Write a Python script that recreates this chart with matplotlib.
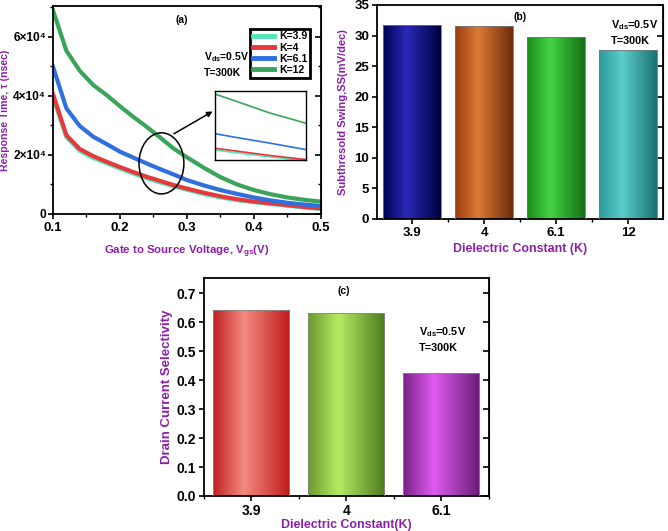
"""
    Three-panel figure: response time vs Vgs, subthreshold swing and
    drain current selectivity for different dielectric constants.
"""
import numpy as np
import matplotlib
matplotlib.use('Agg')
import matplotlib.pyplot as plt
from matplotlib.patches import Ellipse
from matplotlib.colors import LinearSegmentedColormap
from matplotlib.ticker import MultipleLocator

plt.rcParams['font.family'] = ['Liberation Sans', 'DejaVu Sans']
plt.rcParams['font.weight'] = 'bold'
plt.rcParams['axes.labelweight'] = 'bold'
plt.rcParams['mathtext.fontset'] = 'custom'
plt.rcParams['mathtext.default'] = 'bf'
plt.rcParams['mathtext.bf'] = 'Liberation Sans:bold'
plt.rcParams['mathtext.rm'] = 'Liberation Sans:bold'

# panel (a) data, response time in units of 1e4 nsec
VGS = [0.10, 0.12, 0.14, 0.16, 0.18, 0.20, 0.22, 0.24, 0.26, 0.28, 0.30,
       0.325, 0.35, 0.375, 0.40, 0.425, 0.45, 0.475, 0.50]
TAU_K39 = [3.96, 2.60, 2.14, 1.90, 1.72, 1.54, 1.37, 1.21, 1.07, 0.94, 0.82,
           0.68, 0.56, 0.47, 0.40, 0.34, 0.28, 0.22, 0.17]
TAU_K4 = [4.06, 2.67, 2.20, 1.96, 1.77, 1.59, 1.42, 1.26, 1.12, 0.98, 0.86,
          0.72, 0.60, 0.50, 0.42, 0.36, 0.30, 0.24, 0.19]
TAU_K61 = [4.99, 3.58, 2.98, 2.62, 2.37, 2.11, 1.91, 1.71, 1.52, 1.34, 1.15,
           0.97, 0.81, 0.68, 0.56, 0.46, 0.38, 0.32, 0.27]
TAU_K12 = [6.90, 5.53, 4.85, 4.37, 4.03, 3.65, 3.29, 2.95, 2.59, 2.22, 1.92,
           1.57, 1.25, 1.00, 0.81, 0.67, 0.56, 0.48, 0.42]
SERIES_LABELS = ['K=3.9', 'K=4', 'K=6.1', 'K=12']
SERIES_COLORS = ['#4fe6b4', '#e8383c', '#2f6fe0', '#3aa55a']
TAU_TICKS = [0, 2e4, 4e4, 6e4]
TAU_TICK_LABELS = ['0', '2×10⁴', '4×10⁴', '6×10⁴']

# panel (b) data
K_SS = ['3.9', '4', '6.1', '12']
SS = [31.7, 31.6, 29.8, 27.7]

# panel (c) data
K_SEL = ['3.9', '4', '6.1']
SELECTIVITY = [0.642, 0.631, 0.424]

LABEL_COLOR = '#8a1fa8'
COND_TEXT = 'V$_{ds}$=0.5V\nT=300K'


def shade_bars(ax, bars, palettes):
    """Fill each bar with a horizontal gradient, like the Origin style."""
    grad = np.linspace(0, 1, 256).reshape(1, -1)
    for bar, (dark, light, right) in zip(bars, palettes):
        cmap = LinearSegmentedColormap.from_list(
            '', [(0, dark), (0.4, light), (1, right)])
        x0 = bar.get_x()
        w = bar.get_width()
        h = bar.get_height()
        img = ax.imshow(grad, cmap=cmap, extent=(x0, x0 + w, 0, h),
                        aspect='auto', origin='lower', zorder=2)
        img.set_clip_path(bar)


def right_ticks(ax, major, minor=None):
    """Inward ticks on the right spine without labels."""
    sec = ax.secondary_yaxis('right')
    sec.yaxis.set_major_locator(MultipleLocator(major))
    if minor:
        sec.yaxis.set_minor_locator(MultipleLocator(minor))
    sec.tick_params(which='both', direction='in', labelright=False)
    sec.tick_params(which='major', length=4, width=1.2)
    sec.tick_params(which='minor', length=2, width=1)


def style_axes(ax, size):
    for sp in ax.spines.values():
        sp.set_linewidth(1.3)
    ax.tick_params(which='major', direction='out', length=3.5, width=1.2,
                   pad=2, labelsize=size)
    ax.tick_params(which='minor', direction='out', length=2, width=1)


fig = plt.figure(figsize=(6.68, 5.31), dpi=100)

# ---------------- panel (a) ----------------
ax_a = fig.add_axes([0.0793, 0.597, 0.401, 0.392])
series = [TAU_K39, TAU_K4, TAU_K61, TAU_K12]
for vals, lab, col in zip(series, SERIES_LABELS, SERIES_COLORS):
    ax_a.plot(VGS, np.array(vals) * 1e4, color=col, lw=3, label=lab)
ax_a.set_xlim(0.1, 0.5)
ax_a.set_ylim(0, 7.05e4)
ax_a.xaxis.set_minor_locator(MultipleLocator(0.05))
ax_a.yaxis.set_minor_locator(MultipleLocator(1e4))
ax_a.set_yticks(TAU_TICKS)
ax_a.set_yticklabels(TAU_TICK_LABELS)
ax_a.set_xticks([0.1, 0.2, 0.3, 0.4, 0.5])
ax_a.set_xticklabels(['0.1', '0.2', '0.3', '0.4', '0.5'])
style_axes(ax_a, 9.5)
ax_a.tick_params(axis='y', labelsize=8.6, pad=1.5)
right_ticks(ax_a, 2e4, 1e4)
ax_a.set_ylabel('Response Time, τ (nsec)', color=LABEL_COLOR, fontsize=7.6)
ax_a.yaxis.set_label_coords(-0.16, 0.5)
ax_a.set_xlabel('Gate to Source Voltage, V$_{gs}$(V)', color=LABEL_COLOR,
                fontsize=8.2, labelpad=7)
ax_a.text(0.48, 0.93, '(a)', transform=ax_a.transAxes, fontsize=7.5,
          ha='center', va='center')
ax_a.text(0.565, 0.72, COND_TEXT, transform=ax_a.transAxes, fontsize=7.5,
          ha='left', va='center', linespacing=1.5)
leg = ax_a.legend(loc='upper right', bbox_to_anchor=(0.96, 0.89),
                  fontsize=7.6, handlelength=2.0, handletextpad=0.5,
                  borderpad=0.25, labelspacing=0.12, fancybox=False,
                  framealpha=1, borderaxespad=0)
leg.get_frame().set_edgecolor('black')
leg.get_frame().set_linewidth(2)
for line in leg.get_lines():
    line.set_linewidth(3.5)

# zoom ellipse and arrow
ax_a.add_patch(Ellipse((0.262, 1.715e4), 0.067, 2.07e4, fill=False,
                       edgecolor='black', lw=1.1, zorder=5))
ax_a.annotate('', xy=(0.342, 3.52e4), xytext=(0.277, 2.67e4),
              arrowprops=dict(arrowstyle='-|>', color='black', lw=1.1,
                              mutation_scale=8))

# inset
ax_in = ax_a.inset_axes([0.604, 0.26, 0.34, 0.333])
for vals, col in zip(series, SERIES_COLORS):
    ax_in.plot(VGS, np.array(vals) * 1e4, color=col, lw=1.2)
ax_in.set_xlim(0.25, 0.30)
ax_in.set_ylim(0.85e4, 2.87e4)
ax_in.set_xticks([])
ax_in.set_yticks([])
for sp in ax_in.spines.values():
    sp.set_linewidth(1)

# ---------------- panel (b) ----------------
ax_b = fig.add_axes([0.564, 0.5876, 0.429, 0.403])
bars_b = ax_b.bar(range(len(K_SS)), SS, width=0.8, color='none',
                  edgecolor='#777777', linewidth=0.6, zorder=3)
shade_bars(ax_b, bars_b, [('#000050', '#2a2ab8', '#000040'),
                          ('#9a3c10', '#dc7a38', '#6e2a08'),
                          ('#1a8a1a', '#44d444', '#157015'),
                          ('#2a9a9a', '#5ccccc', '#1a7272')])
ax_b.set_xlim(-0.49, 3.49)
ax_b.set_ylim(0, 35)
ax_b.set_xticks(range(len(K_SS)))
ax_b.set_xticklabels(K_SS)
ax_b.xaxis.set_minor_locator(MultipleLocator(0.5))
ax_b.yaxis.set_major_locator(MultipleLocator(5))
style_axes(ax_b, 9.5)
right_ticks(ax_b, 5)
ax_b.set_ylabel('Subthresold Swing,SS(mV/dec)', color=LABEL_COLOR,
                fontsize=8)
ax_b.yaxis.set_label_coords(-0.1, 0.5)
ax_b.set_xlabel('Dielectric Constant (K)', color=LABEL_COLOR, fontsize=8.9,
                labelpad=3)
ax_b.text(0.5, 0.945, '(b)', transform=ax_b.transAxes, fontsize=7.5,
          ha='center', va='center')
ax_b.text(0.982, 0.875, COND_TEXT, transform=ax_b.transAxes, fontsize=7.8,
          ha='right', va='center', multialignment='left', linespacing=1.5)

# ---------------- panel (c) ----------------
ax_c = fig.add_axes([0.305, 0.066, 0.427, 0.41])
bars_c = ax_c.bar(range(len(K_SEL)), SELECTIVITY, width=0.8, color='none',
                  edgecolor='#888888', linewidth=0.6, zorder=3)
shade_bars(ax_c, bars_c, [('#c02020', '#f28a80', '#c01c1c'),
                          ('#6a9a2a', '#b4ec64', '#4e7a1c'),
                          ('#7a2088', '#e05cf0', '#6a1a78')])
ax_c.set_xlim(-0.5, 2.5)
ax_c.set_ylim(0, 0.752)
ax_c.set_xticks(range(len(K_SEL)))
ax_c.set_xticklabels(K_SEL)
ax_c.xaxis.set_minor_locator(MultipleLocator(0.5))
ax_c.yaxis.set_major_locator(MultipleLocator(0.1))
ax_c.yaxis.set_major_formatter('{x:.1f}')
style_axes(ax_c, 10)
right_ticks(ax_c, 0.1)
ax_c.set_ylabel('Drain Current Selectivity', color=LABEL_COLOR, fontsize=9.5)
ax_c.yaxis.set_label_coords(-0.109, 0.5)
ax_c.set_xlabel('Dielectric Constant(K)', color=LABEL_COLOR, fontsize=8.9,
                labelpad=1)
ax_c.text(0.49, 0.94, '(c)', transform=ax_c.transAxes, fontsize=7.5,
          ha='center', va='center')
ax_c.text(0.754, 0.72, COND_TEXT, transform=ax_c.transAxes, fontsize=7.8,
          ha='left', va='center', linespacing=1.5)

fig.savefig('out.png', dpi=100)
